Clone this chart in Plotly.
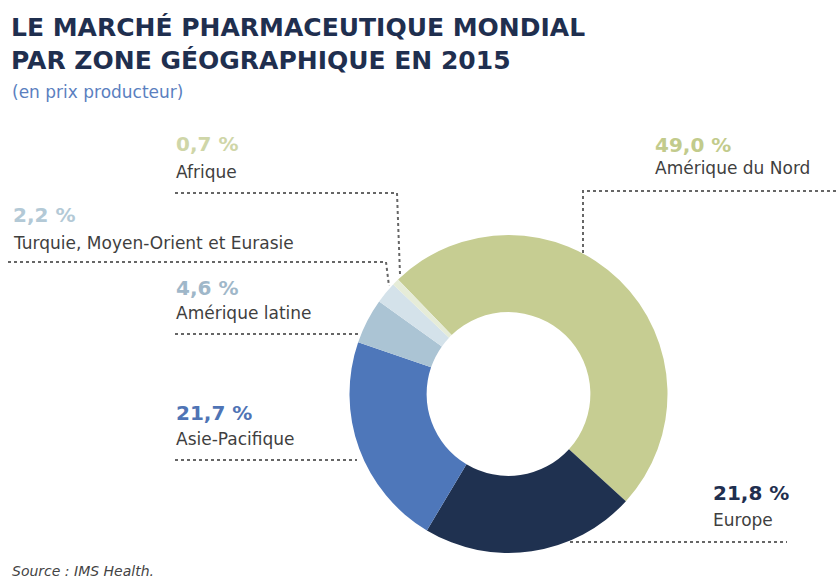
import plotly.graph_objects as go

regions = ["Amérique du Nord", "Europe", "Asie-Pacifique", "Amérique latine",
           "Turquie, Moyen-Orient et Eurasie", "Afrique"]
shares = [49.0, 21.8, 21.7, 4.6, 2.2, 0.7]
share_labels = ["49,0 %", "21,8 %", "21,7 %", "4,6 %", "2,2 %", "0,7 %"]
slice_colors = ["#c6cd92", "#1f3150", "#4e77ba", "#abc4d4", "#d4e2ea", "#e6ecd8"]
label_colors = ["#c2cb8c", "#1f2f4f", "#4f74b5", "#9fb7c9", "#b3c9d6", "#cfd6a8"]

W, H = 838, 580

fig = go.Figure()
fig.add_trace(go.Pie(
    labels=regions, values=shares, hole=0.515, sort=False,
    direction="clockwise", rotation=-44,
    marker=dict(colors=slice_colors, line=dict(width=0)),
    textinfo="none", hoverinfo="label+percent", showlegend=False,
    domain=dict(x=[(508.5 - 159) / W, (508.5 + 159) / W],
                y=[(H - 394 - 159) / H, (H - 394 + 159) / H]),
))

def px(x):
    return x / W

def py(y):
    return 1 - y / H

annotations = []
navy = "#1f2f4f"
annotations.append(dict(text="<b>LE MARCHÉ PHARMACEUTIQUE MONDIAL<br>PAR ZONE GÉOGRAPHIQUE EN 2015</b>",
                        x=px(9), y=py(44), xanchor="left", yanchor="middle", align="left",
                        showarrow=False,
                        font=dict(family="DejaVu Sans", size=25, color=navy)))
annotations.append(dict(text="(en prix producteur)", x=px(10), y=py(92),
                        xanchor="left", yanchor="middle", showarrow=False,
                        font=dict(family="DejaVu Sans", size=17, color="#5b7fbf")))
annotations.append(dict(text="<i>Source : IMS Health.</i>", x=px(10), y=py(571),
                        xanchor="left", yanchor="middle", showarrow=False,
                        font=dict(family="DejaVu Sans", size=14, color="#444444")))

# label anchor positions (left x, pct y, name y)
label_pos = {
    "Amérique du Nord": (653, 145, 168),
    "Europe": (711, 493, 520),
    "Asie-Pacifique": (174, 413, 439),
    "Amérique latine": (174, 288, 313),
    "Turquie, Moyen-Orient et Eurasie": (11, 215, 243),
    "Afrique": (174, 144, 172),
}
for i, r in enumerate(regions):
    x, ypct, yname = label_pos[r]
    annotations.append(dict(text="<b>" + share_labels[i] + "</b>", x=px(x), y=py(ypct),
                            xanchor="left", yanchor="middle", showarrow=False,
                            font=dict(family="DejaVu Sans", size=20, color=label_colors[i])))
    annotations.append(dict(text=r, x=px(x), y=py(yname),
                            xanchor="left", yanchor="middle", showarrow=False,
                            font=dict(family="DejaVu Sans", size=17, color="#3f3f3f")))

# dotted leader lines (pixel paths)
leaders = [
    [(583, 253), (583, 191), (838, 191)],          # Amérique du Nord
    [(570, 542), (787, 542)],                      # Europe
    [(175, 460), (357, 460)],                      # Asie-Pacifique
    [(175, 334), (361, 334)],                      # Amérique latine
    [(8, 262), (386, 262), (389, 286)],            # Turquie
    [(175, 193), (397, 193), (400, 274)],          # Afrique
]
shapes = []
for pts in leaders:
    path = "M " + " L ".join(f"{px(a)},{py(b)}" for a, b in pts)
    shapes.append(dict(type="path", path=path, xref="paper", yref="paper",
                       line=dict(color="#666666", width=2, dash="dot")))

fig.update_layout(
    width=W, height=H, margin=dict(l=0, r=0, t=0, b=0),
    paper_bgcolor="white", plot_bgcolor="white",
    annotations=annotations, shapes=shapes,
)
fig.write_html("out.html", config={"displayModeBar": False},
               post_script="document.body.style.margin='0';document.body.style.padding='0';")
